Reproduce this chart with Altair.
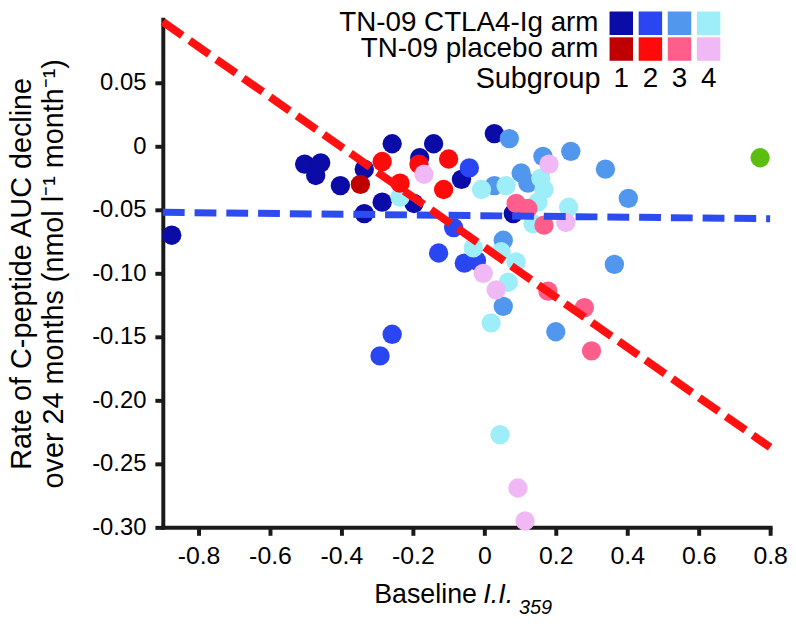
import altair as alt
import pandas as pd

# ---------------- data ----------------
# TN-09 CTLA4-Ig arm, subgroups 1-4
ctla1_x = [-0.875, -0.503, -0.458, -0.472, -0.403, -0.336, -0.258, -0.142, -0.181, -0.336, -0.286, -0.197, -0.064, 0.028, 0.081]
ctla1_y = [-0.070, -0.014, -0.013, -0.023, -0.031, -0.018, 0.002, 0.002, -0.009, -0.053, -0.044, -0.045, -0.026, 0.010, -0.053]
ctla2_x = [-0.042, -0.086, -0.128, -0.056, -0.022, -0.258, -0.292]
ctla2_y = [-0.017, -0.064, -0.084, -0.092, -0.090, -0.148, -0.165]
ctla3_x = [0.070, 0.028, 0.103, 0.122, 0.164, 0.242, 0.339, 0.403, 0.364, 0.053, 0.053, 0.200]
ctla3_y = [0.006, -0.031, -0.021, -0.029, -0.008, -0.004, -0.018, -0.041, -0.093, -0.074, -0.126, -0.146]
ctla4_x = [-0.236, -0.008, 0.061, 0.158, 0.167, 0.150, 0.136, 0.236, -0.031, 0.047, 0.089, 0.067, 0.019, 0.044]
ctla4_y = [-0.040, -0.034, -0.031, -0.025, -0.034, -0.044, -0.061, -0.048, -0.080, -0.083, -0.091, -0.107, -0.139, -0.227]
# TN-09 placebo arm, subgroups 1-4
plac1_x = [-0.347]
plac1_y = [-0.030]
plac2_x = [-0.286, -0.236, -0.183, -0.100, -0.114]
plac2_y = [-0.012, -0.029, -0.014, -0.010, -0.034]
plac3_x = [0.089, 0.122, 0.167, 0.178, 0.280, 0.300]
plac3_y = [-0.045, -0.049, -0.062, -0.114, -0.127, -0.161]
plac4_x = [-0.169, 0.181, 0.228, -0.003, 0.033, 0.094, 0.114]
plac4_y = [-0.022, -0.014, -0.060, -0.100, -0.113, -0.269, -0.295]
# single green point
other_x = [0.772]
other_y = [-0.009]

# regression lines
fit_x = [-0.9, 0.8]
placebo_fit_y = [0.098, -0.237]
ctla_fit_y = [-0.052, -0.057]

group_names = ["CTLA4-Ig 1", "CTLA4-Ig 2", "CTLA4-Ig 3", "CTLA4-Ig 4",
               "placebo 1", "placebo 2", "placebo 3", "placebo 4", "other"]
group_colors = ["#0b0ba8", "#2a46f2", "#5197ee", "#9eeefa",
                "#bf0000", "#ff0a0a", "#ff5e8c", "#f0b9f5", "#5cbf10"]
arms = ["TN-09 CTLA4-Ig arm", "TN-09 placebo arm"]
subgroups = [1, 2, 3, 4]
x_ticks = [-0.8, -0.6, -0.4, -0.2, 0.0, 0.2, 0.4, 0.6, 0.8]
y_ticks = [-0.30, -0.25, -0.20, -0.15, -0.10, -0.05, 0.0, 0.05]

# ---------------- tables ----------------
series = [(ctla1_x, ctla1_y), (ctla2_x, ctla2_y), (ctla3_x, ctla3_y), (ctla4_x, ctla4_y),
          (plac1_x, plac1_y), (plac2_x, plac2_y), (plac3_x, plac3_y), (plac4_x, plac4_y),
          (other_x, other_y)]
rows = []
for name, (xs_, ys_) in zip(group_names, series):
    for a, b in zip(xs_, ys_):
        rows.append({"x": a, "y": b, "group": name, "idx": len(rows)})
pts = pd.DataFrame(rows)
placebo_fit = pd.DataFrame({"x": fit_x, "y": placebo_fit_y})
ctla_fit = pd.DataFrame({"x": fit_x, "y": ctla_fit_y})

leg_rows = []
for ai, arm in enumerate(arms):
    for s in subgroups:
        leg_rows.append({"arm": arm, "subgroup": s, "group": group_names[ai * 4 + s - 1]})
leg = pd.DataFrame(leg_rows)
arm_df = pd.DataFrame({"arm": arms})
sub_df = pd.DataFrame({"subgroup": subgroups})

# ---------------- scales & axes ----------------
W, H = 612, 512
FONT = "Liberation Sans"
AX = "#1a1a1a"
xs = alt.Scale(domain=[-0.9, 0.8], nice=False, zero=False)
ys = alt.Scale(domain=[-0.30, 0.10], nice=False, zero=False)
color_scale = alt.Scale(domain=group_names, range=group_colors)

x_axis = alt.Axis(values=x_ticks, title=None, grid=False,
                  labelExpr="abs(datum.value) < 1e-9 ? '0' : (datum.value < 0 ? '-' : '') + format(abs(datum.value), '.1f')",
                  labelFontSize=25, labelColor="black", labelPadding=8, labelFlush=False,
                  tickSize=8, tickWidth=4, tickColor=AX, domainWidth=4, domainColor=AX,
                  domainCap="square")
y_axis = alt.Axis(values=y_ticks, grid=False,
                  labelExpr="abs(datum.value) < 1e-9 ? '0' : (datum.value < 0 ? '-' : '') + format(abs(datum.value), '.2f')",
                  labelFontSize=24, labelColor="black", labelPadding=9, labelFlush=False,
                  tickSize=8, tickWidth=4, tickColor=AX, domainWidth=4, domainColor=AX,
                  domainCap="square",
                  title=["Rate of C-peptide AUC decline", "over 24 months (nmol l\u207b\u00b9 month\u207b\u00b9)"],
                  titleFontSize=29, titleFontWeight="normal", titleColor="black",
                  titleX=-142, titleY=256, titleAngle=270, titleAlign="center",
                  titleBaseline="middle", titleLineHeight=32)

X = alt.X("x:Q", scale=xs, axis=x_axis)
Y = alt.Y("y:Q", scale=ys, axis=y_axis)

points = alt.Chart(pts).mark_circle(size=380, opacity=1).encode(
    x=X, y=Y,
    color=alt.Color("group:N", scale=color_scale, legend=None),
    order=alt.Order("idx:Q"),
)
red_line = alt.Chart(placebo_fit).mark_line(color="#ff1111", strokeWidth=8, strokeDash=[24, 9],
                                            strokeCap="butt").encode(x=X, y=Y)
blue_line = alt.Chart(ctla_fit).mark_line(color="#2d4cf0", strokeWidth=7, strokeDash=[22, 10],
                                          strokeCap="butt").encode(x=X, y=Y)

t1 = alt.Chart(pd.DataFrame({"t": ["Baseline"]})).mark_text(
    align="left", baseline="middle", fontSize=27, color="black").encode(
    x=alt.value(213), y=alt.value(580), text="t:N")
t2 = alt.Chart(pd.DataFrame({"t": ["I.I."]})).mark_text(
    align="left", baseline="middle", fontSize=27, fontStyle="italic", color="black").encode(
    x=alt.value(323), y=alt.value(580), text="t:N")
t3 = alt.Chart(pd.DataFrame({"t": ["359"]})).mark_text(
    align="left", baseline="middle", fontSize=20, fontStyle="italic", color="black").encode(
    x=alt.value(359), y=alt.value(593), text="t:N")

main = alt.layer(points, blue_line, red_line, t1, t2, t3)

# ---------------- custom legend ----------------
lx = alt.Scale(domain=subgroups, range=[462, 550], padding=0)
ly = alt.Scale(domain=arms, range=[4, 30], padding=0)
leg_sq = alt.Chart(leg).mark_square(size=560, opacity=1).encode(
    x=alt.X("subgroup:O", scale=lx, axis=None),
    y=alt.Y("arm:N", scale=ly, axis=None),
    color=alt.Color("group:N", scale=color_scale, legend=None),
)
leg_arm = alt.Chart(arm_df).mark_text(align="right", baseline="middle", fontSize=28, color="black").encode(
    x=alt.value(439), y=alt.Y("arm:N", scale=ly, axis=None), text="arm:N")
leg_num = alt.Chart(sub_df).mark_text(align="center", baseline="middle", fontSize=28, color="black").encode(
    x=alt.X("subgroup:O", scale=lx, axis=None), y=alt.value(60), text="subgroup:O")
leg_sub = alt.Chart(pd.DataFrame({"t": ["Subgroup"]})).mark_text(
    align="right", baseline="middle", fontSize=29, color="black").encode(
    x=alt.value(441), y=alt.value(60), text="t:N")
legend = alt.layer(leg_sq, leg_arm, leg_num, leg_sub)

chart = alt.layer(main, legend).resolve_scale(x="independent", y="independent").properties(
    width=W, height=H,
    autosize=alt.AutoSizeParams(type="none"),
    padding={"left": 156, "top": 9, "right": 18, "bottom": 92},
).configure(font=FONT).configure_view(stroke=None)

chart.save("out.html", embed_options={"renderer": "svg", "actions": False})
